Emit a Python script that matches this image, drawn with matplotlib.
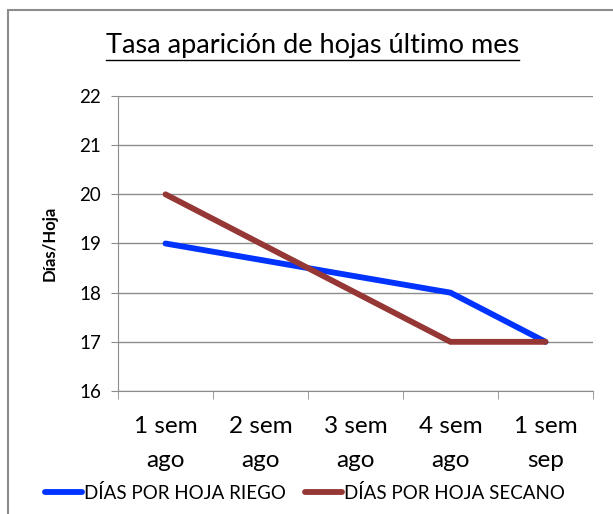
import matplotlib.pyplot as plt
from matplotlib.patches import Rectangle

plt.rcParams['font.family'] = ['Lato', 'DejaVu Sans']

semanas = ['1 sem\nago', '2 sem\nago', '3 sem\nago', '4 sem\nago', '1 sem\nsep']
riego = [19, 18.667, 18.333, 18, 17]
secano = [20, 19, 18, 17, 17]

fig = plt.figure(figsize=(6.13, 5.14), dpi=100)
# marco del grafico
fig.patches.append(Rectangle((8 / 613, -0.05), 1.0, 1 - 10 / 514 + 0.05,
                             transform=fig.transFigure, fill=False,
                             edgecolor='#8c8c8c', lw=1.5))

ax = fig.add_axes([118 / 613, 1 - 391 / 514, 475 / 613, 295 / 514])
x = list(range(len(semanas)))
ax.plot(x, riego, color='#0033FF', lw=4.2, solid_capstyle='round',
        solid_joinstyle='miter', label='DÍAS POR HOJA RIEGO')
ax.plot(x, secano, color='#953735', lw=4.2, solid_capstyle='round',
        solid_joinstyle='miter', label='DÍAS POR HOJA SECANO')

ax.set_xlim(-0.5, len(semanas) - 0.5)
ax.set_ylim(16, 22)
ax.set_yticks(range(16, 23))
ax.set_xticks(x)
ax.set_xticklabels(semanas, fontsize=17.5, linespacing=1.75)
ax.set_xticks([i - 0.5 for i in range(len(semanas) + 1)], minor=True)
ax.tick_params(axis='x', which='major', length=0, pad=18)
ax.tick_params(axis='x', which='minor', length=6, color='#8c8c8c', direction='out')
ax.tick_params(axis='y', length=5, color='#8c8c8c', labelsize=13.5, pad=7)
ax.grid(axis='y', color='#8c8c8c', lw=1)
ax.set_axisbelow(True)
for s in ['top', 'right']:
    ax.spines[s].set_visible(False)
ax.spines['left'].set_color('#8c8c8c')
ax.spines['bottom'].set_color('#8c8c8c')
ax.set_ylabel('Días/Hoja', fontsize=12, fontweight='bold', labelpad=16)

t = fig.text(0.51, 1 - 46 / 514, 'Tasa aparición de hojas último mes',
             ha='center', va='center', fontsize=19.5)
fig.canvas.draw()
bb = t.get_window_extent()
fig.add_artist(plt.Line2D([bb.x0 / 613, bb.x1 / 613],
                          [(bb.y0 - 1) / 514, (bb.y0 - 1) / 514],
                          transform=fig.transFigure, color='black', lw=1))

fig.legend(loc='center', bbox_to_anchor=(0.497, 1 - 493 / 514), ncol=2,
           frameon=False, fontsize=13.5, handlelength=2.0, handletextpad=0.1,
           columnspacing=1.0)

fig.savefig('out.png', dpi=100)
